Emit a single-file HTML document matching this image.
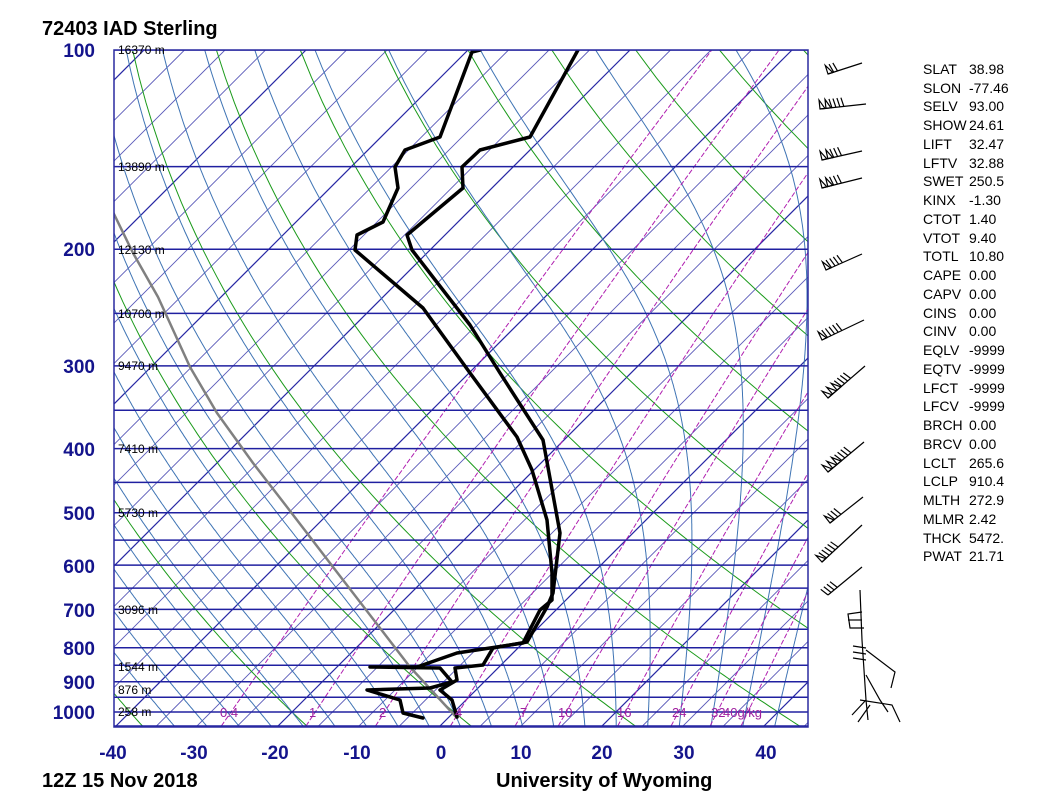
<!DOCTYPE html>
<html><head><meta charset="utf-8"><style>
html,body{margin:0;padding:0;background:#fff;}
svg{display:block;}
.pl{font:bold 19px "Liberation Sans",sans-serif;fill:#14148c;}
.hl{font:12px "Liberation Sans",sans-serif;fill:#000;}
.mr{font:13px "Liberation Sans",sans-serif;fill:#a020a0;}
.ix{font:14px "Liberation Sans",sans-serif;fill:#000;}
.tt{font:bold 20px "Liberation Sans",sans-serif;fill:#000;}
</style></head><body>
<svg id="s" width="1054" height="804" viewBox="0 0 1054 804" xmlns="http://www.w3.org/2000/svg">
<defs><clipPath id="c"><rect x="114" y="50" width="694" height="677"/></clipPath></defs>
<rect width="1054" height="804" fill="#fff"/>
<g id="grid" clip-path="url(#c)"></g>
<g id="prof" clip-path="url(#c)" fill="none" stroke-linejoin="round" stroke-linecap="round">
<polyline stroke="#808080" stroke-width="2.5" points="113,212 133,253 158,297 190,367 217,413 253,463 287,507 333,567 410,667 457,718"/>
<polyline stroke="#000" stroke-width="3.5" points="480,50 472,52 440,137 405,150 395,167 398,188 383,222 357,235 355,250 423,308 470,373 517,437 532,470 547,520 552,573 552,600 540,610 523,643 457,653 417,667 370,667 440,668 452,682 430,688 367,690 400,700 403,713 423,718"/>
<polyline stroke="#000" stroke-width="3.5" points="578,50 530,137 480,150 462,167 463,188 407,235 412,250 470,325 500,373 543,440 560,533 553,593 547,607 527,642 493,648 483,665 455,668 457,680 440,690 452,700 457,717"/>
</g>
<rect x="114" y="50" width="694" height="677" fill="none" stroke="#2a2aa0" stroke-width="1.5"/>
<g id="hl" class="hl">
<text x="118" y="54">16370 m</text><text x="118" y="171">13890 m</text><text x="118" y="254">12130 m</text>
<text x="118" y="318">10700 m</text><text x="118" y="370">9470 m</text><text x="118" y="453">7410 m</text>
<text x="118" y="517">5730 m</text><text x="118" y="614">3096 m</text><text x="118" y="671">1544 m</text>
<text x="118" y="694">876 m</text><text x="118" y="716">258 m</text>
</g>
<g class="mr">
<text x="220" y="717">0.4</text><text x="309" y="717">1</text><text x="379" y="717">2</text><text x="455" y="717">4</text>
<text x="520" y="717">7</text><text x="558" y="717">10</text><text x="617" y="717">16</text><text x="672" y="717">24</text>
<text x="711" y="717">32</text><text x="723" y="717">40g/kg</text>
</g>
<g class="pl" text-anchor="end">
<text x="95" y="57">100</text><text x="95" y="256">200</text><text x="95" y="373">300</text><text x="95" y="456">400</text>
<text x="95" y="520">500</text><text x="95" y="573">600</text><text x="95" y="617">700</text><text x="95" y="655">800</text>
<text x="95" y="689">900</text><text x="95" y="719">1000</text>
</g>
<g class="pl" text-anchor="middle">
<text x="113" y="759">-40</text><text x="194" y="759">-30</text><text x="275" y="759">-20</text><text x="357" y="759">-10</text>
<text x="441" y="759">0</text><text x="521" y="759">10</text><text x="602" y="759">20</text><text x="684" y="759">30</text><text x="766" y="759">40</text>
</g>
<text class="tt" x="42" y="35">72403 IAD Sterling</text>
<text class="tt" x="42" y="787">12Z 15 Nov 2018</text>
<text class="tt" x="496" y="787">University of Wyoming</text>
<g class="ix">
<text x="923" y="74">SLAT</text><text x="969" y="74">38.98</text>
<text x="923" y="93">SLON</text><text x="969" y="93">-77.46</text>
<text x="923" y="111">SELV</text><text x="969" y="111">93.00</text>
<text x="923" y="130">SHOW</text><text x="969" y="130">24.61</text>
<text x="923" y="149">LIFT</text><text x="969" y="149">32.47</text>
<text x="923" y="168">LFTV</text><text x="969" y="168">32.88</text>
<text x="923" y="186">SWET</text><text x="969" y="186">250.5</text>
<text x="923" y="205">KINX</text><text x="969" y="205">-1.30</text>
<text x="923" y="224">CTOT</text><text x="969" y="224">1.40</text>
<text x="923" y="243">VTOT</text><text x="969" y="243">9.40</text>
<text x="923" y="261">TOTL</text><text x="969" y="261">10.80</text>
<text x="923" y="280">CAPE</text><text x="969" y="280">0.00</text>
<text x="923" y="299">CAPV</text><text x="969" y="299">0.00</text>
<text x="923" y="318">CINS</text><text x="969" y="318">0.00</text>
<text x="923" y="336">CINV</text><text x="969" y="336">0.00</text>
<text x="923" y="355">EQLV</text><text x="969" y="355">-9999</text>
<text x="923" y="374">EQTV</text><text x="969" y="374">-9999</text>
<text x="923" y="393">LFCT</text><text x="969" y="393">-9999</text>
<text x="923" y="411">LFCV</text><text x="969" y="411">-9999</text>
<text x="923" y="430">BRCH</text><text x="969" y="430">0.00</text>
<text x="923" y="449">BRCV</text><text x="969" y="449">0.00</text>
<text x="923" y="468">LCLT</text><text x="969" y="468">265.6</text>
<text x="923" y="486">LCLP</text><text x="969" y="486">910.4</text>
<text x="923" y="505">MLTH</text><text x="969" y="505">272.9</text>
<text x="923" y="524">MLMR</text><text x="969" y="524">2.42</text>
<text x="923" y="543">THCK</text><text x="969" y="543">5472.</text>
<text x="923" y="561">PWAT</text><text x="969" y="561">21.71</text>
</g>
<g id="barbs" fill="none" stroke="#000" stroke-width="1.2">
<polyline points="860,590 862,640 866,700 868,720"/>
<polyline points="862,612 848,614 850,628 864,628"/>
<polyline points="848,620 862,620"/>
<polyline points="866,650 895,672 891,688"/>
<polyline points="853,646 866,648"/><polyline points="853,652 866,654"/><polyline points="853,658 866,660"/>
<polyline points="866,675 880,700 888,712"/>
<polyline points="860,700 892,705 900,722"/><polyline points="866,700 852,715"/><polyline points="870,705 858,722"/>
</g>
</svg>
<script>
(function(){
var NS="http://www.w3.org/2000/svg",g=document.getElementById("grid");
var X0=439,K=8.1;
function yp(p){return 50+287.5*Math.log(p/100);}
function xt(T,y){return X0+K*T+(727-y);}
function line(pts,col,w,dash){var e=document.createElementNS(NS,"polyline");
 e.setAttribute("points",pts.map(function(a){return a[0].toFixed(1)+","+a[1].toFixed(1);}).join(" "));
 e.setAttribute("fill","none");e.setAttribute("stroke",col);e.setAttribute("stroke-width",w);
 if(dash)e.setAttribute("stroke-dasharray",dash);g.appendChild(e);}
for(var T=-170;T<=60;T+=5){var dark=(T%20===0);
 line([[xt(T,727),727],[xt(T,50),50]],dark?"#2828a4":"#5858b8",dark?1.2:0.9);}
for(var th=-60;th<=220;th+=20){var pts=[];for(var p=1050;p>=100;p-=10){var y=yp(p);var t=(th+273.15)*Math.pow(p/1000,0.286)-273.15;pts.push([xt(t,y),y]);}line(pts,"#1a9a1a",1);}
function es(tc){return 6.112*Math.exp(17.67*tc/(tc+243.5));}
function dTdp(T,p){var tc=T-273.15,e=es(tc),r=0.622*e/(p-e);var Rd=287,cp=1005,L=2.5e6;
 return (Rd*T+L*r)/(p*(cp+L*L*r*0.622/(Rd*T*T)));}
for(var tw=-36;tw<=40;tw+=4){var T=tw+273.15,p;
 var up=[];for(p=1000;p>=100;p-=2){up.push([xt(T-273.15,yp(p)),yp(p)]);T-=dTdp(T,p)*2;}
 T=tw+273.15;var dn=[];for(p=1000;p<=1052;p+=2){dn.push([xt(T-273.15,yp(p)),yp(p)]);T+=dTdp(T,p)*2;}
 line(dn.reverse().concat(up),"#3f74b4",1);}
[0.4,1,2,4,7,10,16,24,32,40].forEach(function(w){var pts=[];for(var p=1050;p>=100;p-=10){var e=w*p/(622+w),l=Math.log(e/6.112),td=243.5*l/(17.67-l);var y=yp(p);pts.push([xt(td,y),y]);}line(pts,"#b020b0",1,"5,2");});
for(var p=100;p<=1050;p+=50){var y=yp(p);line([[114,y],[808,y]],"#2020a0",1.5);}
var b=document.getElementById("barbs");
function seg(x1,y1,x2,y2){var e=document.createElementNS(NS,"line");e.setAttribute("x1",x1);e.setAttribute("y1",y1);e.setAttribute("x2",x2);e.setAttribute("y2",y2);b.appendChild(e);}
function barb(sx,sy,ex,ey,pen,full){seg(sx,sy,ex,ey);var dx=ex-sx,dy=ey-sy,L=Math.sqrt(dx*dx+dy*dy),ux=dx/L,uy=dy/L,nx=uy,ny=-ux;if(ny>0){nx=-nx;ny=-ny;}
 var d=0;for(var i=0;i<pen;i++){var x=ex-ux*d,y=ey-uy*d;var t=document.createElementNS(NS,"polygon");
  t.setAttribute("points",x+","+y+" "+(x+nx*9)+","+(y+ny*9)+" "+(x-ux*5)+","+(y-uy*5));b.appendChild(t);d+=6;}
 for(var j=0;j<full;j++){var x=ex-ux*d,y=ey-uy*d;seg(x,y,x+nx*9+ux*2,y+ny*9+uy*2);d+=4;}}
barb(862,63,828,74,1,2);barb(866,104,820,109,2,4);barb(862,151,822,160,2,3);barb(862,178,822,188,2,3);
barb(862,254,826,270,1,4);barb(864,320,822,340,1,5);barb(865,366,828,398,3,4);barb(864,442,828,472,3,4);
barb(863,497,830,523,1,3);barb(862,525,822,562,1,5);barb(862,567,828,595,0,4);
})();
</script>
</body></html>
